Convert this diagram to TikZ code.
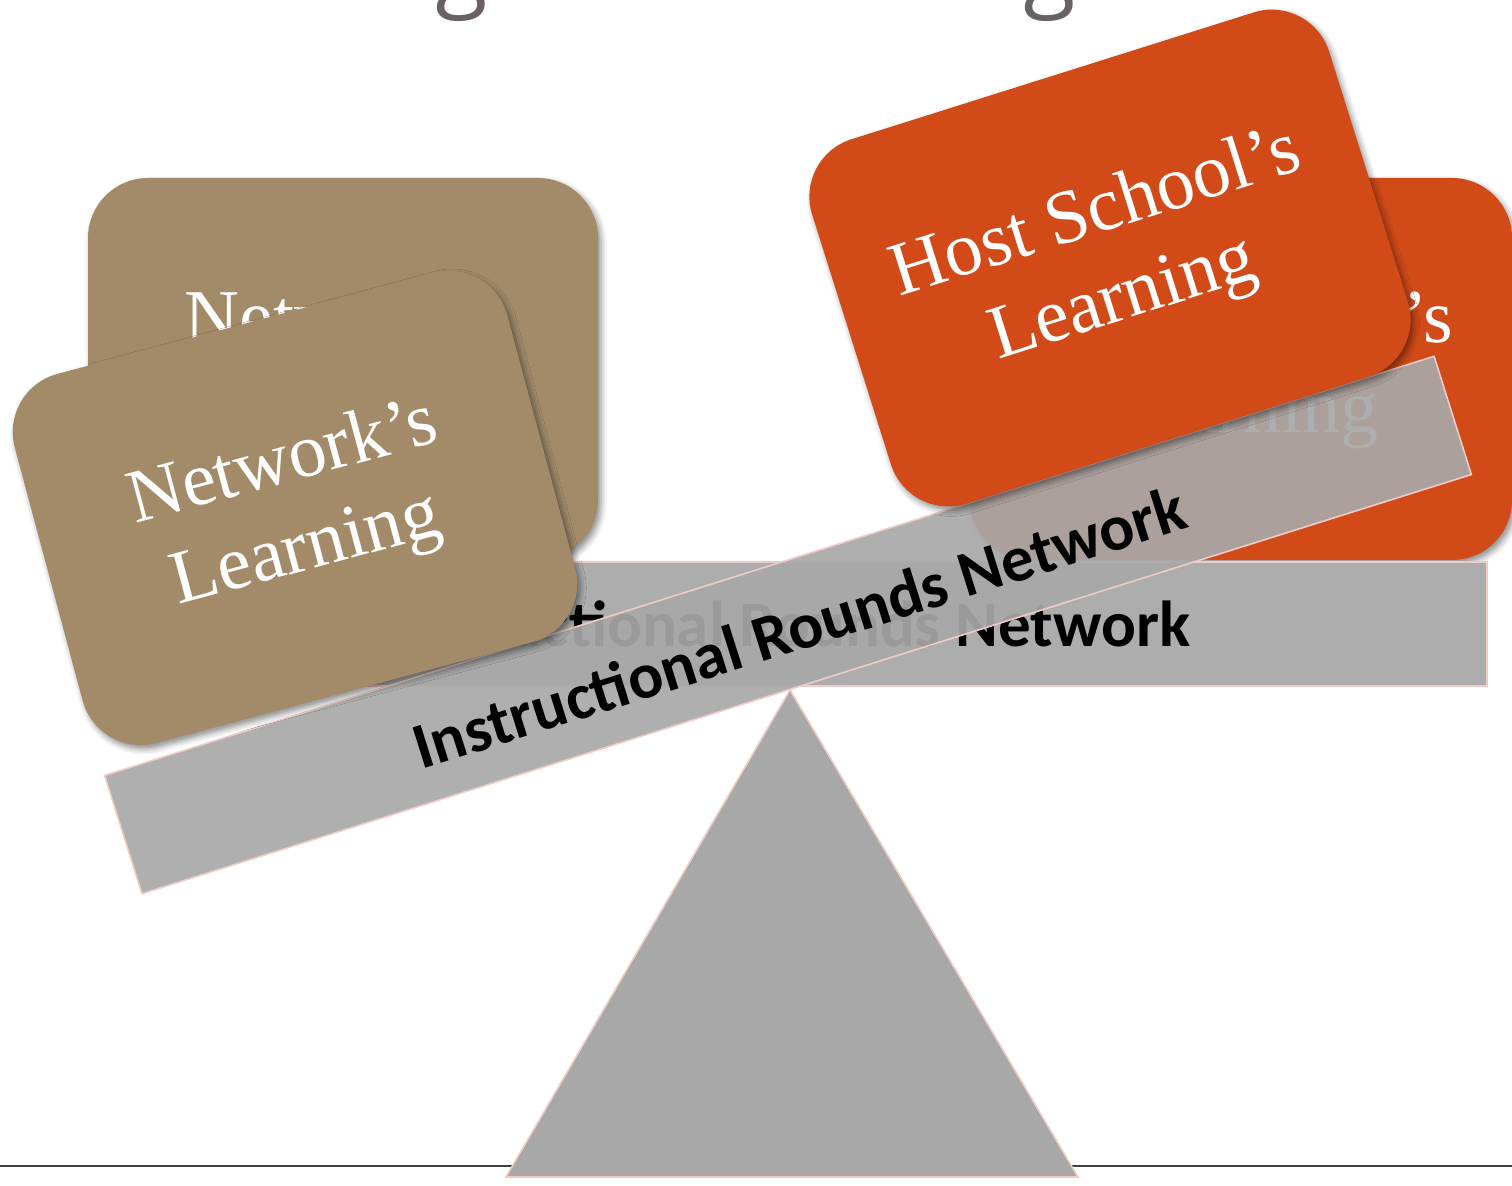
\documentclass[tikz,border=0pt]{standalone}
\usepackage{fontspec}
\setmainfont{Liberation Serif}
\newfontfamily\titlefont{Open Sans}
\newfontfamily\barfont{Carlito}
\usetikzlibrary{shadows.blur}
\definecolor{tancol}{HTML}{A38B6A}
\definecolor{rustcol}{HTML}{D14A18}
\definecolor{barfill}{HTML}{ADADAD}
\definecolor{tiltfill}{HTML}{A8A8A8}
\definecolor{trifill}{HTML}{A8A8A8}
\definecolor{pinkedge}{HTML}{EFCBC7}
\definecolor{titlegray}{HTML}{686362}
\definecolor{rulegray}{HTML}{404040}
\tikzset{
  cardbox/.style={rounded corners=30pt, minimum height=191pt, inner sep=0pt,
    text=white, align=center, font=\fontsize{38}{45}\selectfont,
    blur shadow={shadow xshift=1.5pt, shadow yshift=-2pt, shadow blur radius=3pt, shadow opacity=45}},
  tancard/.style={cardbox, fill=tancol, minimum width=255pt},
  rustcard/.style={cardbox, fill=rustcol, minimum width=271pt},
  beam/.style={minimum width=697pt, minimum height=62pt, inner sep=0pt,
    draw=pinkedge, line width=0.8pt},
  beamtext/.style={inner sep=0pt, text=black,
    font=\barfont\bfseries\fontsize{32.5}{38}\selectfont},
}
\begin{document}
\begin{tikzpicture}[x=0.5pt, y=-0.5pt]
\useasboundingbox (0,0) rectangle (1512,1186);
\clip (0,0) rectangle (1512,1186);
% title, only its descenders show
\node[anchor=base west, inner sep=0pt, text=titlegray,
  font=\titlefont\fontsize{48}{58}\selectfont] (title) at (54,-1) {Balancing the Learning};
% footer rule
\coordinate (ruleL) at (0,1166);
\coordinate (ruleR) at (1512,1166);
\draw[rulegray, line width=1.2pt] (ruleL) -- (ruleR);
% back cards
\node[tancard] (tanback) at (343,369) {Network’s\\Learning};
\node[rustcard] (rustback) at (1241,369) {Host School’s\\Learning};
% level beam
\node[beam, fill=barfill] (hbar) at (790,624) {};
\node[beamtext] (hlabel) at ([shift={(-3,0)}]hbar.center) {Instructional Rounds Network};
% fulcrum
\coordinate (apex) at (790,690);
\coordinate (baseL) at (506,1177);
\coordinate (baseR) at (1078,1177);
\path[fill=trifill, draw=pinkedge, line width=0.8pt] (apex) -- (baseL) -- (baseR) -- cycle;
% tilted beam
\node[beam, fill=tiltfill, fill opacity=0.92, rotate=17.5] (tbar) at (788,625) {};
\node[beamtext, rotate=17.5] (tlabel) at ([shift={(11,2)}]tbar.center) {Instructional Rounds Network};
% front cards
\node[tancard, rotate=15] (tanfront) at (295,508) {Network’s\\Learning};
\node[rustcard, rotate=17.5] (rustfront) at (1110,258) {Host School’s\\Learning};
\end{tikzpicture}
\end{document}
